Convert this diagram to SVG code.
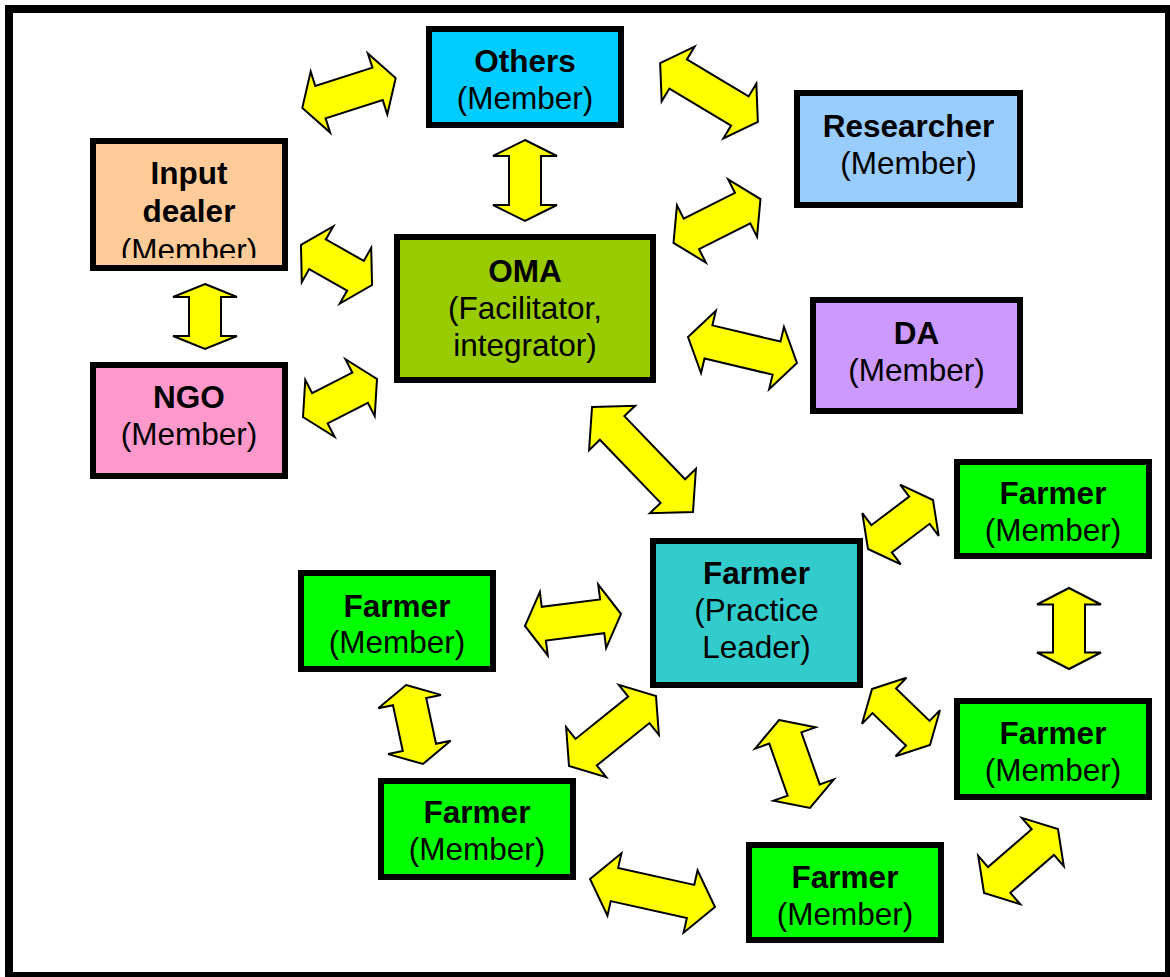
<svg xmlns="http://www.w3.org/2000/svg" width="1170" height="977" viewBox="0 0 1170 977">
  <style>
    .box { stroke: #000; stroke-width: 6; }
    .t { font-family: "Liberation Sans", Arial, sans-serif; font-size: 31.5px; text-anchor: middle; fill: #000; }
    .b { font-weight: bold; }
    .arr { fill: #FFFF00; stroke: #000; stroke-width: 2; stroke-linejoin: miter; }
  </style>
  <defs>
    <clipPath id="inputClip">
      <rect x="96" y="144" width="186" height="114"/>
    </clipPath>
  </defs>

  <!-- page frame -->
  <rect x="0" y="0" width="1170" height="977" fill="#fff"/>
  <rect x="9" y="9" width="1160" height="967" fill="none" stroke="#000" stroke-width="8"/>

  <!-- two-way block arrows -->
  <g id="connectors">
    <polygon class="arr" transform="translate(349,93) rotate(-17.7)" points="-49,0 -30,-32 -30,-17 30,-17 30,-32 49,0 30,32 30,17 -30,17 -30,32"/>
    <polygon class="arr" transform="translate(709,92.5) rotate(31)" points="-57,0 -36,-32 -36,-17 36,-17 36,-32 57,0 36,32 36,17 -36,17 -36,32"/>
    <polygon class="arr" transform="translate(525,180.5) rotate(90)" points="-40.5,0 -24.5,-32 -24.5,-16 24.5,-16 24.5,-32 40.5,0 24.5,32 24.5,16 -24.5,16 -24.5,32"/>
    <polygon class="arr" transform="translate(717,221) rotate(-26.8)" points="-48.7,0 -28.7,-32 -28.7,-17 28.7,-17 28.7,-32 48.7,0 28.7,32 28.7,17 -28.7,17 -28.7,32"/>
    <polygon class="arr" transform="translate(336.5,265) rotate(29.4)" points="-40.8,0 -21.8,-32 -21.8,-17 21.8,-17 21.8,-32 40.8,0 21.8,32 21.8,17 -21.8,17 -21.8,32"/>
    <polygon class="arr" transform="translate(340,398) rotate(-27.2)" points="-41.6,0 -22.6,-32 -22.6,-17 22.6,-17 22.6,-32 41.6,0 22.6,32 22.6,17 -22.6,17 -22.6,32"/>
    <polygon class="arr" transform="translate(205,316.5) rotate(90)" points="-32.5,0 -19.5,-32 -19.5,-16 19.5,-16 19.5,-32 32.5,0 19.5,32 19.5,16 -19.5,16 -19.5,32"/>
    <polygon class="arr" transform="translate(742.5,350) rotate(13.4)" points="-56,0 -35,-32 -35,-17 35,-17 35,-32 56,0 35,32 35,17 -35,17 -35,32"/>
    <polygon class="arr" transform="translate(642.5,459.5) rotate(46.1)" points="-72.8,0 -43.8,-32 -43.8,-17 43.8,-17 43.8,-32 72.8,0 43.8,32 43.8,17 -43.8,17 -43.8,32"/>
    <polygon class="arr" transform="translate(900.5,524.5) rotate(-37)" points="-40.7,0 -23.7,-32 -23.7,-17 23.7,-17 23.7,-32 40.7,0 23.7,32 23.7,17 -23.7,17 -23.7,32"/>
    <polygon class="arr" transform="translate(573,620) rotate(-7.1)" points="-48.4,0 -29.4,-32 -29.4,-17 29.4,-17 29.4,-32 48.4,0 29.4,32 29.4,17 -29.4,17 -29.4,32"/>
    <polygon class="arr" transform="translate(612.5,731) rotate(-38.8)" points="-55.8,0 -33.8,-32 -33.8,-17 33.8,-17 33.8,-32 55.8,0 33.8,32 33.8,17 -33.8,17 -33.8,32"/>
    <polygon class="arr" transform="translate(794.5,764) rotate(70.6)" points="-46.6,0 -27.6,-32 -27.6,-17 27.6,-17 27.6,-32 46.6,0 27.6,32 27.6,17 -27.6,17 -27.6,32"/>
    <polygon class="arr" transform="translate(901,717) rotate(44)" points="-40.3,0 -23.3,-32 -23.3,-17 23.3,-17 23.3,-32 40.3,0 23.3,32 23.3,17 -23.3,17 -23.3,32"/>
    <polygon class="arr" transform="translate(1069,628.5) rotate(90)" points="-40.5,0 -24,-32 -24,-16 24,-16 24,-32 40.5,0 24,32 24,16 -24,16 -24,32"/>
    <polygon class="arr" transform="translate(1021,861) rotate(-40.9)" points="-48.9,0 -28.9,-32 -28.9,-17 28.9,-17 28.9,-32 48.9,0 28.9,32 28.9,17 -28.9,17 -28.9,32"/>
    <polygon class="arr" transform="translate(414.5,724.5) rotate(77.9)" points="-40.4,0 -23.4,-32 -23.4,-17 23.4,-17 23.4,-32 40.4,0 23.4,32 23.4,17 -23.4,17 -23.4,32"/>
    <polygon class="arr" transform="translate(652.5,893) rotate(12.6)" points="-64,0 -39,-32 -39,-17 39,-17 39,-32 64,0 39,32 39,17 -39,17 -39,32"/>
  </g>

  <g id="others">
    <rect class="box" x="429" y="29" width="192" height="96" fill="#00CCFF"/>
    <text class="t b" x="525" y="72">Others</text>
    <text class="t" x="525" y="109">(Member)</text>
  </g>

  <g id="researcher">
    <rect class="box" x="797" y="93" width="223" height="112" fill="#99CCFF"/>
    <text class="t b" x="908.5" y="137">Researcher</text>
    <text class="t" x="908.5" y="174">(Member)</text>
  </g>

  <g id="input-dealer">
    <rect class="box" x="93" y="141" width="192" height="127" fill="#FFCC99"/>
    <g clip-path="url(#inputClip)">
      <text class="t b" x="189" y="184">Input</text>
      <text class="t b" x="189" y="222">dealer</text>
      <text class="t" x="189" y="261">(Member)</text>
    </g>
  </g>

  <g id="oma">
    <rect class="box" x="397" y="237" width="256" height="143" fill="#99CC00"/>
    <text class="t b" x="525" y="282">OMA</text>
    <text class="t" x="525" y="319">(Facilitator,</text>
    <text class="t" x="525" y="356">integrator)</text>
  </g>

  <g id="da">
    <rect class="box" x="813" y="300" width="207" height="111" fill="#CC99FF"/>
    <text class="t b" x="916.5" y="344">DA</text>
    <text class="t" x="916.5" y="381">(Member)</text>
  </g>

  <g id="ngo">
    <rect class="box" x="93" y="365" width="192" height="111" fill="#FF99CC"/>
    <text class="t b" x="189" y="408">NGO</text>
    <text class="t" x="189" y="445">(Member)</text>
  </g>

  <g id="practice-leader">
    <rect class="box" x="653" y="541" width="207" height="144" fill="#33CCCC"/>
    <text class="t b" x="756.5" y="584">Farmer</text>
    <text class="t" x="756.5" y="621">(Practice</text>
    <text class="t" x="756.5" y="658">Leader)</text>
  </g>

  <g id="farmer-top-right">
    <rect class="box" x="957" y="462" width="192" height="94" fill="#00FF00"/>
    <text class="t b" x="1053" y="504">Farmer</text>
    <text class="t" x="1053" y="541">(Member)</text>
  </g>

  <g id="farmer-right">
    <rect class="box" x="957" y="701" width="192" height="96" fill="#00FF00"/>
    <text class="t b" x="1053" y="744">Farmer</text>
    <text class="t" x="1053" y="781">(Member)</text>
  </g>

  <g id="farmer-left">
    <rect class="box" x="301" y="573" width="192" height="96" fill="#00FF00"/>
    <text class="t b" x="397" y="617">Farmer</text>
    <text class="t" x="397" y="653">(Member)</text>
  </g>

  <g id="farmer-bottom-left">
    <rect class="box" x="381" y="781" width="192" height="96" fill="#00FF00"/>
    <text class="t b" x="477" y="823">Farmer</text>
    <text class="t" x="477" y="860">(Member)</text>
  </g>

  <g id="farmer-bottom">
    <rect class="box" x="749" y="845" width="192" height="95" fill="#00FF00"/>
    <text class="t b" x="845" y="888">Farmer</text>
    <text class="t" x="845" y="925">(Member)</text>
  </g>
</svg>
